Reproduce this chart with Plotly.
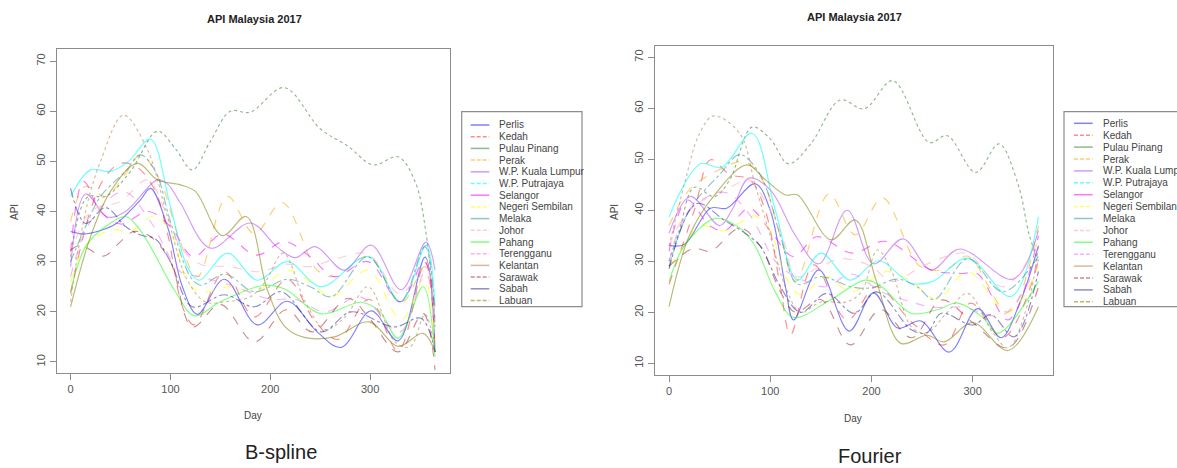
import plotly.graph_objects as go

W, H = 1177, 468

STATES = ["Perlis", "Kedah", "Pulau Pinang", "Perak", "W.P. Kuala Lumpur", "W.P. Putrajaya",
          "Selangor", "Negeri Sembilan", "Melaka", "Johor", "Pahang", "Terengganu",
          "Kelantan", "Sarawak", "Sabah", "Labuan"]
X_TICKS = [0, 100, 200, 300]
Y_TICKS = [10, 20, 30, 40, 50, 60, 70]

# ---------------- B-spline smoothed curves (day, API) ----------------
bs_perlis_day = [0, 13, 30, 45, 57, 70, 80, 97, 112, 127, 154, 187, 217, 247, 271, 301, 328, 355, 365]
bs_perlis_api = [36, 35.5, 36.2, 37.5, 39.6, 42.3, 44.6, 37, 25, 19.5, 26.5, 17.4, 22.1, 16, 12.9, 20.2, 14.2, 30.9, 12]
bs_kedah_day = [0, 20, 35, 50, 67, 85, 97, 113, 124, 154, 184, 217, 245, 268, 299, 328, 355, 365]
bs_kedah_api = [23.7, 40.3, 47, 49.6, 48.8, 44, 35.7, 20.5, 17.4, 28, 19, 26.5, 18, 14.5, 22.5, 12.2, 30, 12]
bs_pinang_day = [0, 17, 35, 60, 87, 105, 122, 140, 160, 180, 214, 250, 278, 303, 328, 345, 356, 365]
bs_pinang_api = [31, 42.9, 43, 48, 56, 52.5, 48.3, 54, 60, 59.8, 64.7, 56.5, 53, 49.3, 50.9, 46, 35.7, 18]
bs_perak_day = [0, 15, 35, 55, 70, 90, 108, 127, 157, 184, 212, 247, 264, 298, 331, 355, 365]
bs_perak_api = [38, 45, 43, 47.5, 51.3, 46, 35, 27, 43, 35.6, 41.8, 28.3, 27, 31, 21.7, 29, 16]
bs_kl_day = [0, 15, 37, 55, 87, 97, 110, 140, 180, 207, 225, 245, 274, 301, 331, 356, 365]
bs_kl_api = [29, 43.5, 38.9, 40, 46.3, 45.5, 41.7, 32.7, 37.7, 32.9, 30.8, 33, 28.3, 33.3, 24.4, 33.9, 28.3]
bs_putrajaya_day = [0, 20, 40, 58, 80, 100, 117, 129, 157, 187, 217, 251, 298, 331, 356, 365]
bs_putrajaya_api = [43, 48.3, 48, 50, 54.4, 41, 29, 26.3, 31.7, 26.3, 30, 25, 31, 22, 33.3, 21]
bs_selangor_day = [0, 13, 30, 50, 78, 100, 123, 152, 186, 214, 240, 264, 298, 330, 354, 365]
bs_selangor_api = [32, 46, 40, 37.5, 40, 37, 31, 35.5, 31.3, 34, 31, 27, 30, 22, 30, 20]
bs_nsembilan_day = [0, 15, 40, 60, 84, 100, 117, 130, 160, 185, 217, 240, 261, 298, 331, 354, 365]
bs_nsembilan_api = [26, 33, 36.3, 36, 39.1, 36, 26, 24, 25, 24, 28.3, 26, 23, 28.3, 18.4, 26.6, 14]
bs_melaka_day = [0, 15, 30, 55, 70, 85, 100, 120, 130, 155, 184, 217, 240, 261, 298, 330, 355, 365]
bs_melaka_api = [30, 37, 43, 48, 51.3, 48, 38, 27, 25.3, 27.5, 24, 26.5, 25, 23, 31, 22, 33, 17]
bs_johor_day = [0, 20, 50, 77, 95, 110, 130, 160, 190, 215, 240, 265, 298, 330, 355, 365]
bs_johor_api = [31, 40, 42, 46.3, 40, 33, 29.5, 29, 28, 29.5, 29, 30.5, 31.5, 23.5, 29, 18]
bs_pahang_day = [0, 15, 35, 55, 67, 80, 105, 124, 150, 194, 215, 251, 291, 310, 328, 353, 365]
bs_pahang_api = [24, 33, 37, 39, 37, 33, 24, 19.2, 22, 25.3, 24.5, 19.6, 21.9, 20, 14.7, 25, 11]
bs_terengganu_day = [0, 20, 53, 80, 110, 130, 165, 200, 225, 255, 290, 330, 355, 365]
bs_terengganu_api = [27, 38, 44, 38, 28, 27, 25, 22.5, 22.5, 20, 23, 16, 28, 17]
bs_kelantan_day = [0, 15, 30, 53, 77, 97, 117, 135, 155, 180, 195, 213, 235, 255, 275, 298, 325, 340, 355, 365]
bs_kelantan_api = [22, 40, 50, 59.2, 52.3, 39, 26.3, 22, 22, 23, 26, 31.7, 22, 16.5, 19, 25, 14, 13, 19.5, 12]
bs_sarawak_day = [0, 10, 33, 50, 63, 80, 100, 122, 150, 184, 216, 242, 278, 300, 328, 353, 365]
bs_sarawak_api = [32.3, 33.3, 31.1, 34, 36, 35, 30, 17, 21.5, 14, 20.4, 16, 22.7, 18.5, 12, 19.7, 8.4]
bs_sabah_day = [0, 15, 35, 55, 70, 85, 100, 122, 154, 184, 211, 251, 281, 324, 351, 365]
bs_sabah_api = [44.6, 37.6, 40.8, 37, 35.3, 34.5, 30, 21, 23.4, 21, 24, 16, 20, 17, 18.7, 12]
bs_labuan_day = [0, 20, 40, 67, 87, 110, 125, 152, 176, 197, 215, 234, 264, 299, 328, 353, 365]
bs_labuan_api = [21, 35, 44, 49.6, 46.3, 45.3, 44, 35.2, 39, 24.4, 17, 14.9, 15, 18, 13.1, 15.7, 12]

# ---------------- Fourier smoothed curves (day, API) ----------------
fr_perlis_day = [0, 15, 41, 57, 85, 100, 115, 123, 148, 178, 202, 226, 249, 277, 305, 328, 345, 365]
fr_perlis_api = [33.1, 33.3, 40.4, 40.4, 45.2, 40, 25, 18.5, 28.3, 16.3, 23.8, 16.9, 18.3, 12.2, 20.7, 15, 21, 33]
fr_kedah_day = [0, 25, 41, 60, 80, 95, 110, 120, 143, 176, 205, 240, 272, 298, 330, 365]
fr_kedah_api = [25.5, 40, 49.9, 47, 46, 40, 25, 15.6, 29.3, 18.5, 25, 18, 13.6, 21.8, 15, 30]
fr_pinang_day = [0, 10, 25, 45, 60, 82, 100, 118, 140, 169, 193, 221, 257, 275, 303, 326, 345, 356, 365]
fr_pinang_api = [30, 36, 44.5, 42.7, 46, 56.3, 54, 49.1, 53, 61.6, 59.9, 65.4, 53.3, 54.6, 47.4, 53, 45, 35.1, 30]
fr_perak_day = [0, 20, 50, 75, 92, 110, 125, 158, 184, 211, 248, 275, 295, 335, 365]
fr_perak_api = [37, 44, 48, 49.5, 46, 35, 26, 43.2, 35.2, 42.4, 29, 28.5, 31, 20, 37]
fr_kl_day = [0, 21, 50, 62, 79, 100, 125, 148, 176, 202, 231, 259, 287, 340, 365]
fr_kl_api = [35.5, 42.7, 37, 40, 46.3, 44, 35, 29.5, 40, 29.5, 34.4, 28.3, 32.4, 26.5, 36]
fr_putrajaya_day = [0, 31, 52, 82, 105, 127, 150, 179, 207, 239, 260, 295, 338, 365]
fr_putrajaya_api = [38.7, 49.1, 48.4, 55.1, 40, 26.3, 31.6, 26.3, 30.1, 25.7, 26, 30.6, 23.1, 38.7]
fr_selangor_day = [0, 18, 40, 55, 79, 100, 123, 146, 181, 214, 259, 288, 305, 335, 365]
fr_selangor_api = [32, 42, 37, 36, 40.4, 36, 30.9, 34.8, 31.6, 33.9, 28.3, 27.6, 27.5, 18.5, 35]
fr_nsembilan_day = [0, 15, 30, 55, 84, 100, 115, 130, 155, 180, 215, 240, 265, 295, 335, 365]
fr_nsembilan_api = [29, 33, 37, 36, 38.9, 36, 27, 23.4, 27, 24, 28, 26, 22.5, 28, 20, 29]
fr_melaka_day = [0, 20, 50, 70, 90, 110, 127, 150, 180, 200, 225, 245, 262, 295, 330, 365]
fr_melaka_api = [29, 40, 47, 50.9, 47, 35, 25.5, 27, 25, 24.8, 26.5, 25, 22.5, 30.5, 24, 31]
fr_johor_day = [0, 20, 65, 78, 100, 115, 125, 150, 170, 200, 220, 250, 275, 295, 330, 365]
fr_johor_api = [33, 40, 45, 46, 40, 33, 27, 29, 30.5, 29, 26, 29, 31, 31.5, 25, 34]
fr_pahang_day = [0, 15, 46, 70, 85, 105, 123, 160, 194, 210, 239, 265, 285, 310, 325, 365]
fr_pahang_api = [26, 33, 38.4, 36.5, 33, 24, 19, 22.5, 26.3, 25, 19.8, 20.5, 21.8, 19, 15.9, 26]
fr_terengganu_day = [0, 20, 55, 80, 105, 125, 155, 180, 210, 240, 260, 290, 330, 365]
fr_terengganu_api = [30, 40, 43.5, 39, 30, 27, 25, 27.5, 24, 22, 21, 21, 19.5, 30]
fr_kelantan_day = [0, 15, 30, 44, 70, 85, 100, 115, 130, 150, 175, 190, 206, 220, 240, 255, 275, 295, 320, 335, 355, 365]
fr_kelantan_api = [33, 45, 55, 58.5, 55, 45, 35, 25, 20, 22, 22, 24, 32.2, 28, 17, 16, 20, 23.7, 16, 13, 22, 33]
fr_sarawak_day = [0, 24, 41, 70, 90, 110, 125, 150, 179, 209, 240, 269, 300, 335, 365]
fr_sarawak_api = [29, 32.5, 32, 36.5, 33, 24, 20, 22.5, 13.6, 20.5, 15, 22.4, 18, 13, 25]
fr_sabah_day = [0, 27, 55, 75, 90, 110, 130, 156, 183, 205, 240, 255, 269, 300, 318, 341, 365]
fr_sabah_api = [28.5, 41.3, 38, 35.5, 33, 25, 20, 23.7, 19.8, 24, 16.5, 16, 19.8, 17.5, 19.5, 15.2, 28]
fr_labuan_day = [0, 20, 45, 77, 95, 115, 127, 160, 184, 205, 229, 255, 272, 300, 335, 365]
fr_labuan_api = [21.1, 35, 43, 48.9, 46, 43, 43, 34.2, 38.1, 26, 13.9, 15.5, 14.2, 18, 12.5, 21.1]

BS = [(bs_perlis_day, bs_perlis_api), (bs_kedah_day, bs_kedah_api), (bs_pinang_day, bs_pinang_api),
      (bs_perak_day, bs_perak_api), (bs_kl_day, bs_kl_api), (bs_putrajaya_day, bs_putrajaya_api),
      (bs_selangor_day, bs_selangor_api), (bs_nsembilan_day, bs_nsembilan_api), (bs_melaka_day, bs_melaka_api),
      (bs_johor_day, bs_johor_api), (bs_pahang_day, bs_pahang_api), (bs_terengganu_day, bs_terengganu_api),
      (bs_kelantan_day, bs_kelantan_api), (bs_sarawak_day, bs_sarawak_api), (bs_sabah_day, bs_sabah_api),
      (bs_labuan_day, bs_labuan_api)]
FR = [(fr_perlis_day, fr_perlis_api), (fr_kedah_day, fr_kedah_api), (fr_pinang_day, fr_pinang_api),
      (fr_perak_day, fr_perak_api), (fr_kl_day, fr_kl_api), (fr_putrajaya_day, fr_putrajaya_api),
      (fr_selangor_day, fr_selangor_api), (fr_nsembilan_day, fr_nsembilan_api), (fr_melaka_day, fr_melaka_api),
      (fr_johor_day, fr_johor_api), (fr_pahang_day, fr_pahang_api), (fr_terengganu_day, fr_terengganu_api),
      (fr_kelantan_day, fr_kelantan_api), (fr_sarawak_day, fr_sarawak_api), (fr_sabah_day, fr_sabah_api),
      (fr_labuan_day, fr_labuan_api)]

COLORS = ["rgba(0,0,255,0.5)", "rgba(255,0,0,0.45)", "rgba(0,100,0,0.45)", "rgba(255,165,0,0.55)",
          "rgba(160,32,240,0.45)", "rgba(0,255,255,0.6)", "rgba(255,0,255,0.55)", "rgba(255,255,0,0.6)",
          "rgba(0,128,128,0.45)", "rgba(255,182,193,0.7)", "rgba(0,255,0,0.5)", "rgba(238,130,238,0.6)",
          "rgba(170,120,70,0.5)", "rgba(139,0,0,0.45)", "rgba(0,0,128,0.45)", "rgba(128,128,0,0.55)"]
CURVE_DASH = ["solid", "dash", "dot", "dash", "solid", "solid", "dash", "dash",
              "dashdot", "dash", "solid", "dash", "dot", "dash", "dashdot", "solid"]
LEG_DASH = ["solid", "4px,2px"] * 8


def px(x):
    return x / W


def py(y):
    return 1 - y / H


fig = go.Figure()
for i, (d, v) in enumerate(BS):
    fig.add_trace(go.Scatter(x=d, y=v, mode="lines", name=STATES[i], showlegend=False,
                             line=dict(color=COLORS[i], width=1.15, dash=CURVE_DASH[i], shape="spline", smoothing=1.0),
                             xaxis="x", yaxis="y"))
for i, (d, v) in enumerate(FR):
    fig.add_trace(go.Scatter(x=d, y=v, mode="lines", name=STATES[i], showlegend=False,
                             line=dict(color=COLORS[i], width=1.15, dash=CURVE_DASH[i], shape="spline", smoothing=1.0),
                             xaxis="x2", yaxis="y2"))

axcommon = dict(showgrid=False, zeroline=False, showline=True, mirror=True, linecolor="#8c8c8c",
                linewidth=1.3, ticks="outside", ticklen=6, tickcolor="#8c8c8c",
                tickfont=dict(family="Liberation Sans", size=11, color="#555555"))

fig.update_layout(
    width=W, height=H, margin=dict(l=0, r=0, t=0, b=0),
    paper_bgcolor="white", plot_bgcolor="white", showlegend=False,
    xaxis=dict(domain=[px(57), px(450)], range=[-13.6, 380], tickvals=X_TICKS, anchor="y", **axcommon),
    yaxis=dict(domain=[py(373), py(49)], range=[7.8, 72.4], tickvals=Y_TICKS, tickangle=-90, anchor="x", **axcommon),
    xaxis2=dict(domain=[px(655), px(1053)], range=[-13.9, 379.4], tickvals=X_TICKS, anchor="y2", **axcommon),
    yaxis2=dict(domain=[py(375), py(46)], range=[7.7, 72.2], tickvals=Y_TICKS, tickangle=-90, anchor="x2", **axcommon),
)

ann = []
shapes = []
font_axis = dict(family="Liberation Sans", size=10, color="#444444")
for (tx, ty, t) in [(254, 19, "<b>API Malaysia 2017</b>"), (854, 17, "<b>API Malaysia 2017</b>")]:
    ann.append(dict(x=px(tx), y=py(ty), xref="paper", yref="paper", text=t, showarrow=False,
                    xanchor="center", yanchor="middle", font=dict(family="Liberation Sans", size=11, color="#222")))
for (tx, ty) in [(253, 415), (853, 418)]:
    ann.append(dict(x=px(tx), y=py(ty), xref="paper", yref="paper", text="Day", showarrow=False,
                    xanchor="center", yanchor="middle", font=font_axis))
for (tx, ty) in [(15, 212), (615, 212)]:
    ann.append(dict(x=px(tx), y=py(ty), xref="paper", yref="paper", text="API", showarrow=False, textangle=-90,
                    xanchor="center", yanchor="middle", font=font_axis))
for (tx, ty, t) in [(281, 452, "B-spline"), (870, 456, "Fourier")]:
    ann.append(dict(x=px(tx), y=py(ty), xref="paper", yref="paper", text=t, showarrow=False,
                    xanchor="center", yanchor="middle", font=dict(family="Liberation Sans", size=20, color="#222")))

for (bx0, bx1, by0, by1, y0, dy, lx0, lx1, tx) in [
        (461.7, 582, 111.7, 306.7, 125, 11.7, 470.7, 489.3, 496.7),
        (1064, 1190, 111.7, 306.7, 123.3, 11.9, 1074, 1092.7, 1100.7)]:
    shapes.append(dict(type="rect", xref="paper", yref="paper", x0=px(bx0), x1=px(bx1), y0=py(by1), y1=py(by0),
                       line=dict(color="#8c8c8c", width=1.2), fillcolor="rgba(0,0,0,0)"))
    for i, s in enumerate(STATES):
        yy = y0 + i * dy
        shapes.append(dict(type="line", xref="paper", yref="paper", x0=px(lx0), x1=px(lx1), y0=py(yy), y1=py(yy),
                           line=dict(color=COLORS[i], width=1.5, dash=LEG_DASH[i])))
        ann.append(dict(x=px(tx), y=py(yy), xref="paper", yref="paper", text=s, showarrow=False,
                        xanchor="left", yanchor="middle", font=dict(family="Liberation Sans", size=10, color="#444")))

fig.update_layout(annotations=ann, shapes=shapes)
fig.write_html("out.html", config={"displayModeBar": False},
               post_script="document.body.style.margin='0';document.body.style.overflow='hidden';")
